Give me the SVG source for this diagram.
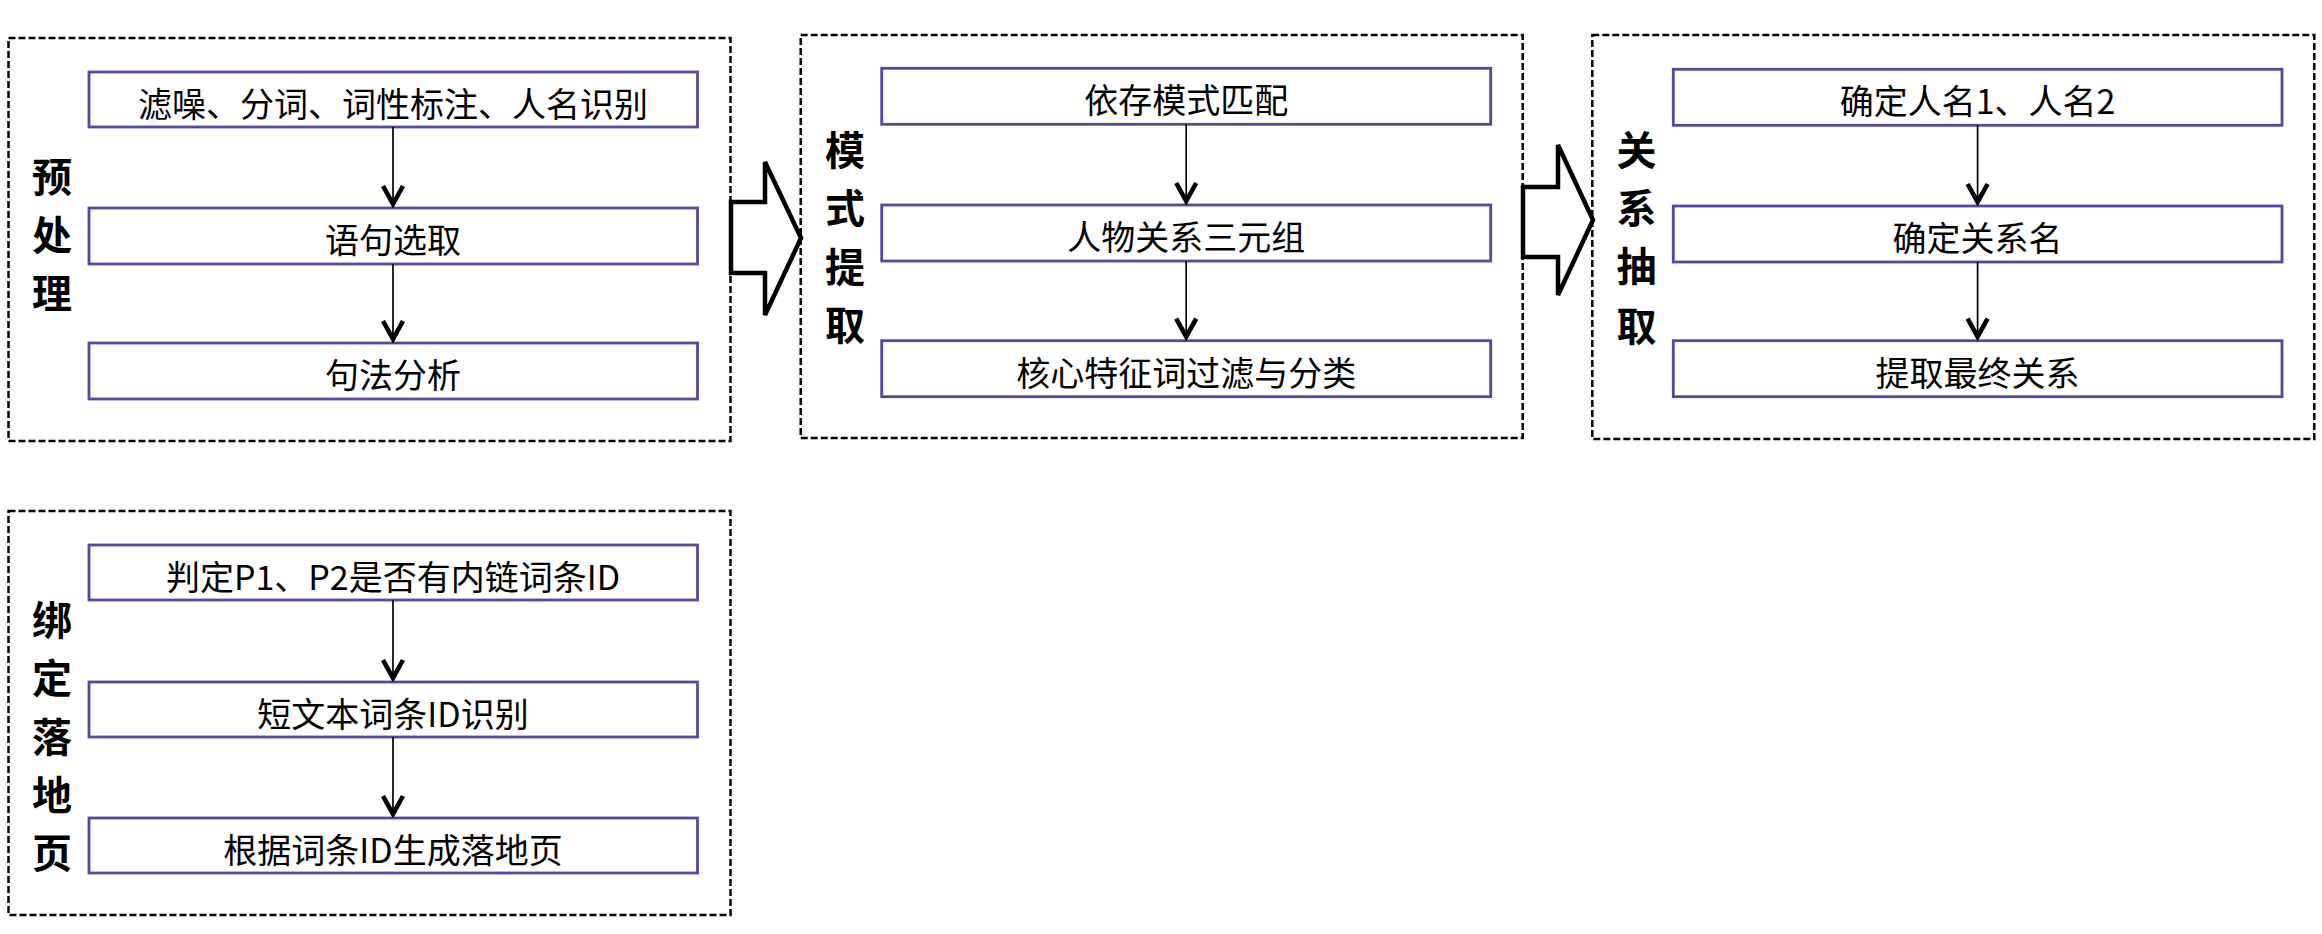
<svg xmlns="http://www.w3.org/2000/svg" width="2322" height="934" viewBox="0 0 2322 934">
<defs>
<style>
.grp{fill:#fff;stroke:#000;stroke-width:2.5;stroke-dasharray:7 3}
.box{fill:#fff;stroke:#5647A6;stroke-width:2.8}
.txt{font-family:"Noto Sans CJK SC","Liberation Sans",sans-serif;font-size:34px;fill:#000;text-anchor:middle}
.lbl{font-family:"Noto Sans CJK SC","Liberation Sans",sans-serif;font-size:40px;font-weight:bold;fill:#000;text-anchor:middle}
.con{fill:none;stroke:#000;stroke-width:1.7}
.big{fill:#fff;stroke:#000;stroke-width:4.5;stroke-linejoin:miter}
</style>
<marker id="ah" viewBox="-26 -15 30 30" markerWidth="30" markerHeight="30" refX="0" refY="0" orient="auto" markerUnits="userSpaceOnUse">
<path d="M-18,-10 L0,0 L-18,10" fill="none" stroke="#000" stroke-width="4.6" stroke-linejoin="miter"/>
</marker>
</defs>
<rect width="2322" height="934" fill="#fff"/>

<g id="stage1">
<rect class="grp" x="8.5" y="38" width="722" height="403"/>
<text class="lbl" x="52" y="192">预</text>
<text class="lbl" x="52" y="250">处</text>
<text class="lbl" x="52" y="308">理</text>
</g>
<g id="stage2">
<rect class="grp" x="800.7" y="35" width="722" height="403"/>
<text class="lbl" x="845" y="165">模</text>
<text class="lbl" x="845" y="223">式</text>
<text class="lbl" x="845" y="282">提</text>
<text class="lbl" x="845" y="340">取</text>
</g>
<g id="stage3">
<rect class="grp" x="1592.3" y="35" width="722" height="404"/>
<text class="lbl" x="1636.5" y="165">关</text>
<text class="lbl" x="1636.5" y="223">系</text>
<text class="lbl" x="1636.5" y="281">抽</text>
<text class="lbl" x="1636.5" y="341">取</text>
</g>
<g id="stage4">
<rect class="grp" x="8.5" y="511" width="722" height="404"/>
<text class="lbl" x="52" y="635">绑</text>
<text class="lbl" x="52" y="693">定</text>
<text class="lbl" x="52" y="752">落</text>
<text class="lbl" x="52" y="810">地</text>
<text class="lbl" x="52" y="868">页</text>
</g>

<g id="n1_1"><rect class="box" x="89" y="72" width="608.5" height="55"/><text class="txt" x="393" y="117">滤噪、分词、词性标注、人名识别</text></g>
<g id="n1_2"><rect class="box" x="89" y="208" width="608.5" height="56"/><text class="txt" x="393" y="253">语句选取</text></g>
<g id="n1_3"><rect class="box" x="89" y="343" width="608.5" height="56"/><text class="txt" x="393" y="388">句法分析</text></g>

<g id="n2_1"><rect class="box" x="881.7" y="68.3" width="609" height="56"/><text class="txt" x="1186.2" y="113">依存模式匹配</text></g>
<g id="n2_2"><rect class="box" x="881.7" y="205" width="609" height="56"/><text class="txt" x="1186.2" y="250">人物关系三元组</text></g>
<g id="n2_3"><rect class="box" x="881.7" y="340.7" width="609" height="56"/><text class="txt" x="1186.2" y="386">核心特征词过滤与分类</text></g>

<g id="n3_1"><rect class="box" x="1673.3" y="69.3" width="608.7" height="56"/><text class="txt" x="1977.6" y="114">确定人名1、人名2</text></g>
<g id="n3_2"><rect class="box" x="1673.3" y="206" width="608.7" height="56"/><text class="txt" x="1977.6" y="251">确定关系名</text></g>
<g id="n3_3"><rect class="box" x="1673.3" y="340.7" width="608.7" height="56"/><text class="txt" x="1977.6" y="386">提取最终关系</text></g>

<g id="n4_1"><rect class="box" x="89" y="545" width="608.5" height="55"/><text class="txt" x="393" y="590">判定P1、P2是否有内链词条ID</text></g>
<g id="n4_2"><rect class="box" x="89" y="682" width="608.5" height="55"/><text class="txt" x="393" y="727">短文本词条ID识别</text></g>
<g id="n4_3"><rect class="box" x="89" y="818" width="608.5" height="55"/><text class="txt" x="393" y="863">根据词条ID生成落地页</text></g>

<g id="connectors">
<path class="con" d="M393,127 V204" marker-end="url(#ah)"/>
<path class="con" d="M393,264 V339" marker-end="url(#ah)"/>
<path class="con" d="M1186.2,124.3 V201" marker-end="url(#ah)"/>
<path class="con" d="M1186.2,261 V336.7" marker-end="url(#ah)"/>
<path class="con" d="M1977.6,125.3 V202" marker-end="url(#ah)"/>
<path class="con" d="M1977.6,262 V336.7" marker-end="url(#ah)"/>
<path class="con" d="M393,600 V678" marker-end="url(#ah)"/>
<path class="con" d="M393,737 V814" marker-end="url(#ah)"/>
<polygon class="big" points="731,202 765,202 765,162 801,238 765,315 765,273 731,273"/>
<polygon class="big" points="1523,187 1558,187 1558,145 1593,220 1558,295 1558,257 1523,257"/>
</g>
</svg>
